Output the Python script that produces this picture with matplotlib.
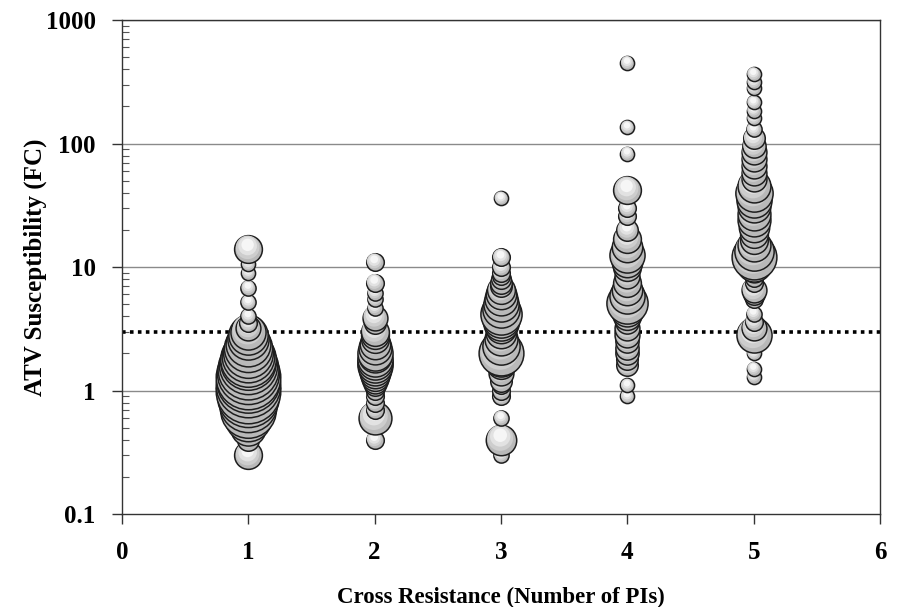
import matplotlib
matplotlib.use("Agg")
import matplotlib.pyplot as plt
import matplotlib.transforms as mtransforms
import numpy as np

# fold-change values and number of isolates per bubble, one pair of lists per PI count
fc_1 = [0.3, 0.4, 0.5, 0.6, 0.7, 0.8, 0.9, 1.0, 1.1, 1.2, 1.3, 1.4, 1.5, 1.6, 1.7, 1.8,
        1.9, 2.0, 2.2, 2.4, 2.6, 2.8, 3.0, 3.2, 3.5, 4.0, 5.2, 6.8, 9.0, 10.6, 14]
n_1 = [5, 3, 8, 14, 20, 22, 25, 27, 27, 26, 27, 25, 24, 22, 20, 20,
       18, 16, 15, 13, 11, 10, 8, 4, 2, 1.5, 1.5, 1.5, 1.3, 1.3, 5]

fc_2 = [0.4, 0.6, 0.7, 0.8, 0.9, 1.0, 1.1, 1.2, 1.3, 1.4, 1.5, 1.6, 1.7, 1.8, 1.9,
        2.0, 2.2, 2.4, 2.6, 2.8, 3.0, 3.5, 3.9, 4.7, 5.5, 6.2, 7.5, 11]
n_2 = [2, 7, 2, 2, 2, 2, 3, 4, 5, 6, 7, 8, 8, 8, 7,
       8, 7, 6, 5, 5, 5, 3, 4, 1.5, 1.5, 1.5, 2, 2]

fc_3 = [0.3, 0.4, 0.6, 0.9, 1.0, 1.1, 1.2, 1.4, 1.6, 1.8, 2.0, 2.3, 2.6, 2.9, 3.2, 3.5,
        3.8, 4.2, 4.6, 5.0, 5.5, 6.0, 6.5, 7.0, 7.5, 8.0, 8.5, 9.0, 10, 12, 36]
n_3 = [1.5, 6, 1.5, 2, 2, 2, 3, 4, 5, 8, 13, 9, 7, 6, 6, 8,
       9, 11, 9, 8, 7, 6, 5, 3, 3, 2.5, 2, 2, 2, 2, 1.3]

fc_4 = [0.9, 1.1, 1.6, 1.8, 2.0, 2.2, 2.5, 2.8, 3.2, 3.6, 4.0, 4.5, 5.1, 5.8, 6.5,
        7.5, 8.5, 10, 11, 12.5, 14.5, 17, 20, 26, 30, 42, 83, 135, 450]
n_4 = [1.3, 1.3, 3, 3, 3.5, 3.5, 3.5, 4, 4, 3.5, 5, 7, 11, 8, 6,
       5, 4, 5, 6, 8, 6, 5, 3, 2, 2, 5, 1.3, 1.3, 1.3]

fc_5 = [1.3, 1.5, 2.0, 2.5, 2.8, 3.2, 3.6, 4.2, 5.5, 6.0, 6.5, 7.5, 8.2, 9.5, 10.5,
        12, 13.5, 15, 16.5, 18.5, 21, 24, 27, 31, 35, 40, 45, 52, 58, 66, 75, 85,
        95, 110, 130, 160, 185, 215, 280, 315, 365]
n_5 = [1.3, 1.3, 1.3, 2, 8, 4, 2, 1.5, 2, 3, 4, 2, 2, 4, 8,
       13, 10, 7, 5, 5, 6, 7, 7, 7, 8, 9, 7, 4, 4, 4, 4, 4,
       3.5, 3, 1.5, 1.3, 1.3, 1.3, 1.3, 1.3, 1.3]

pi_counts = [1, 2, 3, 4, 5]
fc_groups = [fc_1, fc_2, fc_3, fc_4, fc_5]
n_groups = [n_1, n_2, n_3, n_4, n_5]
cutoff = 3.0

serif = ["Liberation Serif", "DejaVu Serif"]

fig = plt.figure(figsize=(8.97, 6.07), dpi=100)
ax = fig.add_axes([0.136, 0.153, 0.845, 0.814])
ax.set_yscale("log")
ax.set_xlim(0, 6)
ax.set_ylim(0.1, 1000)

# grid lines at each decade
for yv in [1, 10, 100, 1000]:
    ax.axhline(yv, color="#8a8a8a", lw=1.0, zorder=1)

ax.axhline(cutoff, color="black", lw=2.6, linestyle=(0, (1, 1.2)), zorder=2)

# bubbles: dark rim, grey body, lighter offset highlight
z = 3
for x, fcs, ns in zip(pi_counts, fc_groups, n_groups):
    for v, n in sorted(zip(fcs, ns)):
        s = 80.0 * n
        r_pt = np.sqrt(s) / 2
        ax.scatter([x], [v], s=s, facecolor="#b9b9b9", edgecolor="#1e1e1e",
                   linewidth=1.1, zorder=z)
        for frac, col, up in [(0.72, "#cdcdcd", 0.12), (0.45, "#e2e2e2", 0.22),
                              (0.2, "#f6f6f6", 0.3)]:
            off = mtransforms.ScaledTranslation(-0.05 * r_pt / 72, up * r_pt / 72,
                                                fig.dpi_scale_trans)
            ax.scatter([x], [v], s=s * frac, facecolor=col, edgecolor="none",
                       linewidth=0, zorder=z + 0.1, transform=ax.transData + off)
        z += 0.2

for sp in ax.spines.values():
    sp.set_color("#333333")
    sp.set_linewidth(1.0)

ax.set_xticks(range(0, 7))
ax.set_yticks([0.1, 1, 10, 100, 1000])
ax.set_yticklabels(["0.1", "1", "10", "100", "1000"])
ax.tick_params(axis="x", direction="out", length=7, width=1, color="#333333", pad=12)
ax.tick_params(axis="y", which="major", direction="out", length=7, width=1,
               color="#333333", pad=12)
ax.tick_params(axis="y", which="minor", direction="in", length=5, width=0.8,
               color="#555555")
for lab in ax.get_xticklabels() + ax.get_yticklabels():
    lab.set_fontfamily(serif)
    lab.set_fontweight("bold")
    lab.set_fontsize(18)

ax.set_xlabel("Cross Resistance (Number of PIs)", family=serif, fontweight="bold",
              fontsize=16.5)
ax.set_ylabel("ATV Susceptibility (FC)", family=serif, fontweight="bold",
              fontsize=18)
ax.xaxis.set_label_coords(0.5, -0.148)
ax.yaxis.set_label_coords(-0.099, 0.5)

fig.savefig("out.png", dpi=100, facecolor="white")
